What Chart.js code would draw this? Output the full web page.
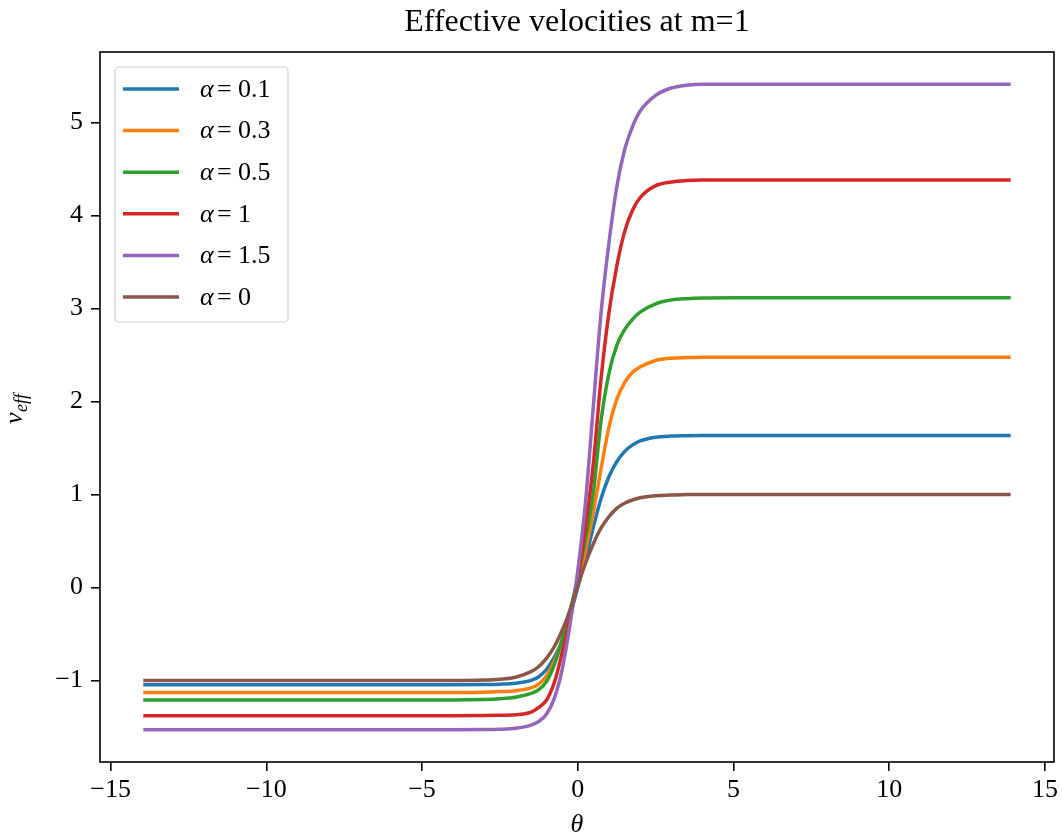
<!DOCTYPE html>
<html>
<head>
<meta charset="utf-8">
<script src="https://cdn.jsdelivr.net/npm/chart.js@4.4.1/dist/chart.umd.min.js"></script>
<style>
  html, body { margin: 0; padding: 0; background: #fff; }
  #wrap { width: 1062px; height: 838px; }
</style>
</head>
<body>
<div id="wrap"><canvas id="veff" width="1062" height="838"></canvas></div>
<script>
// theta sample points
const theta = [-13.95, -6, -4, -3, -2.5, -2, -1.5, -1.25, -1, -0.75, -0.5, -0.25, 0, 0.25, 0.5, 0.75, 1, 1.25, 1.5, 1.75, 2, 2.5, 3, 3.5, 4, 5, 13.9];

const vAlpha01 = [-1.046, -1.046, -1.046, -1.044, -1.04, -1.03, -1.0, -0.96, -0.88, -0.75, -0.57, -0.30, 0.0, 0.31, 0.65, 0.96, 1.19, 1.35, 1.46, 1.53, 1.575, 1.615, 1.628, 1.632, 1.634, 1.634, 1.634];
const vAlpha03 = [-1.13, -1.13, -1.13, -1.127, -1.12, -1.11, -1.08, -1.04, -0.95, -0.79, -0.56, -0.27, 0.05, 0.40, 0.81, 1.28, 1.72, 2.02, 2.20, 2.31, 2.37, 2.44, 2.465, 2.472, 2.476, 2.476, 2.476];
const vAlpha05 = [-1.21, -1.21, -1.21, -1.205, -1.197, -1.18, -1.14, -1.10, -1.01, -0.83, -0.56, -0.25, 0.10, 0.52, 1.02, 1.80, 2.30, 2.60, 2.77, 2.88, 2.96, 3.05, 3.09, 3.105, 3.112, 3.115, 3.115];
const vAlpha1  = [-1.38, -1.38, -1.38, -1.378, -1.375, -1.37, -1.34, -1.29, -1.21, -1.02, -0.70, -0.33, 0.10, 0.65, 1.33, 2.25, 2.95, 3.45, 3.82, 4.05, 4.19, 4.32, 4.36, 4.375, 4.38, 4.38, 4.38];
const vAlpha15 = [-1.53, -1.53, -1.53, -1.528, -1.525, -1.515, -1.48, -1.44, -1.36, -1.19, -0.88, -0.40, 0.18, 0.92, 1.95, 2.96, 3.70, 4.30, 4.70, 4.95, 5.12, 5.29, 5.37, 5.40, 5.41, 5.41, 5.41];
const vAlpha0  = [-1.0, -1.0, -1.0, -0.995, -0.986, -0.965, -0.905, -0.85, -0.76, -0.635, -0.46, -0.245, 0.02, 0.26, 0.47, 0.64, 0.76, 0.85, 0.905, 0.94, 0.964, 0.986, 0.995, 0.998, 1.0, 1.0, 1.0];

const alphaLabels = ['0.1', '0.3', '0.5', '1', '1.5', '0'];
const seriesList = [vAlpha01, vAlpha03, vAlpha05, vAlpha1, vAlpha15, vAlpha0];
const lineColors = ['#1f77b4', '#ff7f0e', '#2ca02c', '#d62728', '#9467bd', '#8c564b'];

const xTicks = [-15, -10, -5, 0, 5, 10, 15];
const yTicks = [-1, 0, 1, 2, 3, 4, 5];

const chartTitle = 'Effective velocities at m=1';
const SERIF = "'Liberation Serif', 'Times New Roman', serif";

function fmtTick(v) {
  return v < 0 ? '\u2212' + Math.abs(v) : String(v);
}

// box around the axes, title, legend and the v_eff label
var framePlugin = {
  id: 'frame',
  afterDraw: function(chart) {
    const ctx = chart.ctx;
    const a = chart.chartArea;
    ctx.save();

    ctx.strokeStyle = '#000';
    ctx.lineWidth = 1.6;
    ctx.strokeRect(a.left, a.top, a.right - a.left, a.bottom - a.top);

    // title, centred over the axes like matplotlib does
    ctx.fillStyle = '#000';
    ctx.textAlign = 'center';
    ctx.textBaseline = 'middle';
    ctx.font = '32px ' + SERIF;
    ctx.fillText(chartTitle, (a.left + a.right) / 2, 23);

    // legend
    const bx = a.left + 15, by = a.top + 15, bw = 173, bh = 255;
    ctx.beginPath();
    ctx.roundRect(bx, by, bw, bh, 4);
    ctx.fillStyle = 'rgba(255,255,255,0.8)';
    ctx.fill();
    ctx.strokeStyle = '#d0d0d0';
    ctx.lineWidth = 1.2;
    ctx.stroke();

    chart.data.datasets.forEach(function(ds, i) {
      const y = by + 22 + i * 41.6;
      ctx.beginPath();
      ctx.moveTo(bx + 8, y);
      ctx.lineTo(bx + 64, y);
      ctx.strokeStyle = ds.borderColor;
      ctx.lineWidth = 3.5;
      ctx.stroke();

      ctx.fillStyle = '#000';
      ctx.textBaseline = 'middle';
      ctx.textAlign = 'left';
      const tx = bx + 85;
      ctx.font = 'italic 26px ' + SERIF;
      ctx.fillText('\u03b1', tx, y + 1);
      ctx.font = '26px ' + SERIF;
      ctx.fillText('=', tx + 17, y + 1);
      ctx.fillText(alphaLabels[i], tx + 38, y + 1);
    });

    // y axis label v_eff
    ctx.translate(22, 412);
    ctx.rotate(-Math.PI / 2);
    ctx.fillStyle = '#000';
    ctx.textBaseline = 'alphabetic';
    ctx.textAlign = 'left';
    ctx.font = 'italic 26px ' + SERIF;
    ctx.fillText('v', -12, 0);
    ctx.font = 'italic 18px ' + SERIF;
    ctx.fillText('eff', 0, 5);

    ctx.restore();
  }
};

const datasets = seriesList.map(function(vals, i) {
  return {
    label: '\u03b1=' + alphaLabels[i],
    data: theta.map(function(t, k) { return {x: t, y: vals[k]}; }),
    borderColor: lineColors[i],
    backgroundColor: lineColors[i],
    borderWidth: 3.5,
    pointRadius: 0,
    cubicInterpolationMode: 'monotone',
    fill: false,
    order: seriesList.length - i
  };
});

new Chart(document.getElementById('veff'), {
  type: 'line',
  data: { datasets: datasets },
  options: {
    responsive: false,
    animation: false,
    layout: { padding: { left: 0, right: 7, top: 52, bottom: 0 } },
    plugins: {
      legend: { display: false },
      tooltip: { enabled: false },
      title: { display: false }
    },
    scales: {
      x: {
        type: 'linear',
        min: -15.34,
        max: 15.29,
        afterBuildTicks: function(s) { s.ticks = xTicks.map(function(v) { return {value: v}; }); },
        afterFit: function(s) { s.height = 76; },
        border: { display: false },
        grid: { drawOnChartArea: false, drawTicks: true, tickLength: 9, color: '#000', lineWidth: 1.6 },
        ticks: {
          color: '#000',
          padding: 4,
          maxRotation: 0,
          font: { family: SERIF, size: 26 },
          callback: fmtTick
        },
        title: {
          display: true,
          text: '\u03b8',
          color: '#000',
          font: { family: SERIF, size: 26, style: 'italic', lineHeight: 1.0 },
          padding: { top: 0, bottom: 0 }
        }
      },
      y: {
        type: 'linear',
        min: -1.877,
        max: 5.757,
        afterBuildTicks: function(s) { s.ticks = yTicks.map(function(v) { return {value: v}; }); },
        afterFit: function(s) { s.width = 100; },
        border: { display: false },
        grid: { drawOnChartArea: false, drawTicks: true, tickLength: 9, color: '#000', lineWidth: 1.6 },
        ticks: {
          color: '#000',
          padding: 8,
          font: { family: SERIF, size: 26 },
          callback: fmtTick
        }
      }
    }
  },
  plugins: [framePlugin]
});
</script>
</body>
</html>
